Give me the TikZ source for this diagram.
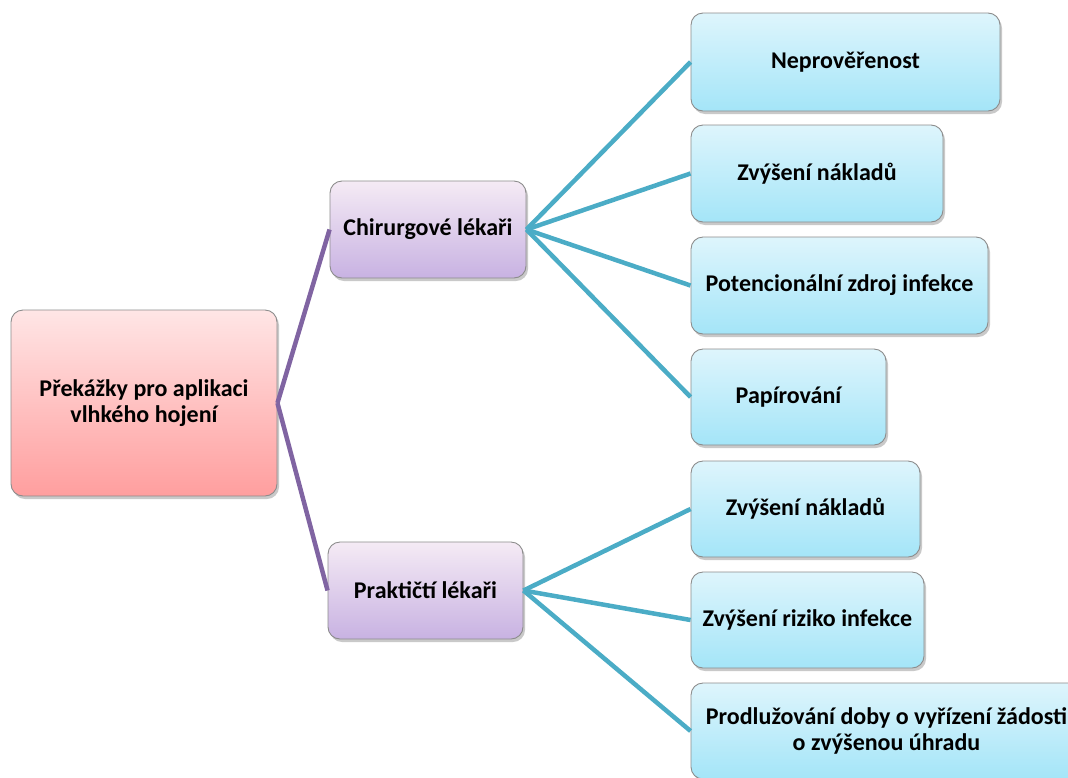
\documentclass[tikz,border=0pt]{standalone}
\usepackage{fontspec}
\setmainfont{Carlito}
\usetikzlibrary{shadows}
\definecolor{linkblue}{HTML}{4BACC6}
\definecolor{linkpurple}{HTML}{8064A2}
\begin{document}
\begin{tikzpicture}[x=1pt,y=-1pt,
  card/.style={rectangle, rounded corners=12pt, draw=black!45, line width=0.9pt,
    align=center, inner sep=4pt,
    font=\fontsize{24}{25.5}\selectfont\bfseries,
    drop shadow={shadow xshift=2pt, shadow yshift=-3pt, opacity=0.3, fill=black!70}},
  rootcard/.style={card, top color=red!10, bottom color=red!38!white},
  midcard/.style={card, top color=violet!8!white, bottom color={rgb,255:red,200;green,178;blue,226}},
  leafcard/.style={card, top color={rgb,255:red,222;green,245;blue,252}, bottom color={rgb,255:red,164;green,229;blue,248}},
  plink/.style={draw=linkpurple, line width=4.5pt},
  blink/.style={draw=linkblue, line width=4.5pt}]
\path[use as bounding box] (0,0) rectangle (1068,777);
\clip (0,0) rectangle (1068,777);

% root
\node[rootcard, minimum width=266pt, minimum height=186pt] (root) at (144,403)
  {Překážky pro aplikaci\\vlhkého hojení};

% second level
\node[midcard, minimum width=196pt, minimum height=97pt] (chir) at (428,229.5) {Chirurgové lékaři};
\node[midcard, minimum width=195pt, minimum height=97pt] (prak) at (425.5,590.5) {Praktičtí lékaři};

% leaves of the surgeons' branch
\node[leafcard, minimum width=309pt, minimum height=98pt] (c1) at (845.5,62) {Neprověřenost};
\node[leafcard, minimum width=252pt, minimum height=97pt] (c2) at (817,173.5) {Zvýšení nákladů};
\node[leafcard, minimum width=297pt, minimum height=97pt] (c3) at (839.5,285.5) {Potencionální zdroj infekce};
\node[leafcard, minimum width=195pt, minimum height=96pt] (c4) at (788.5,397) {Papírování};

% leaves of the general practitioners' branch
\node[leafcard, minimum width=229pt, minimum height=96pt] (p1) at (805.5,509) {Zvýšení nákladů};
\node[leafcard, minimum width=233pt, minimum height=96pt] (p2) at (807.5,620) {Zvýšení riziko infekce};
\node[leafcard, minimum width=391pt, minimum height=96pt] (p3) at (886.5,731)
  {Prodlužování doby o vyřízení žádosti\\o zvýšenou úhradu};

% connectors
\draw[plink] (root.east) -- (chir.west);
\draw[plink] (root.east) -- (prak.west);
\foreach \n in {c1,c2,c3,c4} \draw[blink] (chir.east) -- (\n.west);
\foreach \n in {p1,p2,p3} \draw[blink] (prak.east) -- (\n.west);
\end{tikzpicture}
\end{document}
